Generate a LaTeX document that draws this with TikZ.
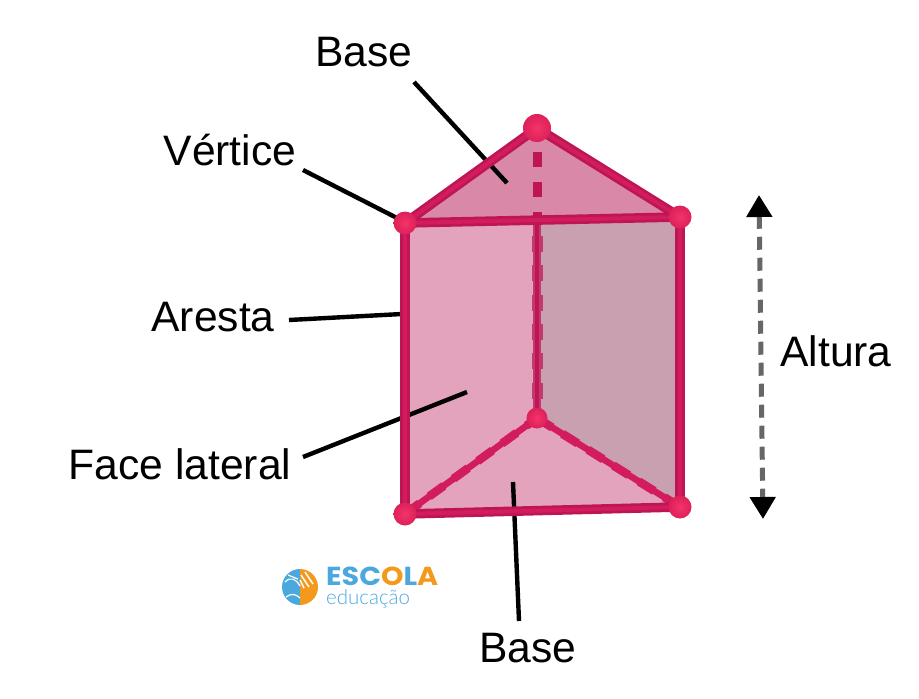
\documentclass[tikz,border=0pt]{standalone}
\usepackage{fontspec}
\setmainfont{Liberation Sans}
\newfontfamily\logofont[FakeStretch=1.1]{Poppins}
\newfontfamily\logolight{Lato Light}
\usetikzlibrary{arrows.meta}
\definecolor{faceA}{HTML}{E3A3BC}
\definecolor{faceB}{HTML}{C8A0B0}
\definecolor{faceT}{HTML}{D988A8}
\definecolor{edgeC}{HTML}{BE1555}
\definecolor{edgeH}{HTML}{D21C5E}
\definecolor{edgeS}{HTML}{C2396F}
\definecolor{vertC}{HTML}{F5336A}
\definecolor{vertD}{HTML}{DC2159}
\definecolor{logoB}{HTML}{4BA8DE}
\definecolor{logoO}{HTML}{F39A1E}
\tikzset{
  lab/.style={font=\fontsize{42.6}{43}\selectfont,inner sep=0pt,text=black},
  lead/.style={draw=black,line width=4.4pt},
  edgeL/.style={draw=edgeC,line width=9.5pt},
  edgeM/.style={draw=edgeH,line width=4pt},
  backW/.style={draw=edgeS,line width=11pt,dash pattern=on 16pt off 13.3pt,dash phase=-8pt},
  backL/.style={draw=edgeS,line width=8pt},
  backD/.style={draw=edgeC,line width=4.5pt},
  lowL/.style={draw=edgeH,line width=6.5pt},
  lowW/.style={draw=edgeH,line width=8.5pt,dash pattern=on 18pt off 12pt},
  vert/.style={circle,inner color=vertC,outer color=vertD,draw=none,inner sep=0pt,minimum size=#1},
  vert/.default=23pt,
  logoT/.style={inner sep=0pt,anchor=base west,align=left,text=logoB},
}
\begin{document}
\begin{tikzpicture}[x=1pt,y=-1pt]
\useasboundingbox (0,0) rectangle (919,699);
% vertices
\coordinate (a) at (405,223);
\coordinate (b) at (537,128);
\coordinate (c) at (680,217);
\coordinate (d) at (405,514);
\coordinate (e) at (537,418);
\coordinate (f) at (680,507);
% faces
\fill[faceA] (a) -- (c) -- (f) -- (d) -- cycle;
\fill[faceB] (537,225) -- (c) -- (f) -- (e) -- cycle;
\fill[faceT] (a) -- (b) -- (c) -- cycle;
\fill[faceA] (d) -- (e) -- (f) -- cycle;
% labels
\node[lab,anchor=base] (lbaseT) at (364,66) {Base};
\node[lab,anchor=base] (lvert) at (230,165) {Vértice};
\node[lab,anchor=base] (lar) at (213,331) {Aresta};
\node[lab,anchor=base] (lface) at (180,479) {Face lateral};
\node[lab,anchor=base] (lbaseB) at (528,662) {Base};
\node[lab,anchor=base] (lalt) at (836,366) {Altura};
% leader ends
\coordinate (tBaseT) at (507,183);
\coordinate (tVert) at (397,218);
\coordinate (tAr) at (402,314);
\coordinate (tFace) at (467,392);
\coordinate (tBaseB) at (513,482);
\draw[lead] (414,82) -- (tBaseT);
\draw[lead] (303,170) -- (tVert);
\draw[lead] (289,320) -- (tAr);
\draw[lead] (303,457) -- (tFace);
\draw[lead] (519,621) -- (tBaseB);
% edges
\draw[edgeL,line width=9pt,dash pattern=on 15pt off 15pt] (537,152) -- (537,222);
\draw[backW] (537,228) -- (e);
\draw[backL] (537,222) -- (e);
\draw[backD] (537,222) -- (e);
\draw[lowW] (d) -- (e);
\draw[lowW] (e) -- (f);
\draw[lowL] (d) -- (e);
\draw[lowL] (e) -- (f);
\draw[edgeL] (a) -- (b);
\draw[edgeL] (b) -- (c);
\draw[edgeL] (a) -- (c);
\draw[edgeL] (a) -- (d);
\draw[edgeL] (c) -- (f);
\draw[edgeL] (d) -- (f);
\draw[edgeM] (a) -- (b);
\draw[edgeM] (b) -- (c);
\draw[edgeM] (a) -- (c);
\draw[edgeM] (a) -- (d);
\draw[edgeM] (c) -- (f);
\draw[edgeM] (d) -- (f);
\node[vert] (na) at (a) {};
\node[vert=28pt] (nb) at (b) {};
\node[vert] (nc) at (c) {};
\node[vert] (nd) at (d) {};
\node[vert=21pt] (ne) at (e) {};
\node[vert] (nf) at (f) {};
% height arrow
\coordinate (hT) at (759,195);
\coordinate (hB) at (763,519);
\draw[draw=black!60,line width=5pt,dash pattern=on 13pt off 8pt,
  {Triangle[width=25pt,length=22pt,color=black]}-{Triangle[width=25pt,length=22pt,color=black]}] (hT) -- (hB);
% logo
\fill[logoB] (300,605) arc (90:270:18) -- cycle;
\fill[logoO] (300,605) arc (90:-90:18) -- cycle;
\draw[white,line width=1.2pt] (285,582) .. controls (291,576) and (296,579) .. (300,586);
\draw[white,line width=1.2pt] (288,575) -- (298,579);
\draw[white,line width=1.2pt] (286,597) .. controls (291,593) and (296,594) .. (300,598);
\draw[white,line width=1.4pt] (305,572) -- (313,584) (301,575) -- (309,587) (300,580) -- (304,588);
\node[logoT,anchor=north west] (logo) at (326,566.5) {{\logofont\bfseries\fontsize{26}{19}\selectfont ESC\textcolor{logoO}{O}L\textcolor{logoO}{A}}\\[3pt]{\logolight\fontsize{20.5}{19.5}\selectfont educação}};
\end{tikzpicture}
\end{document}
